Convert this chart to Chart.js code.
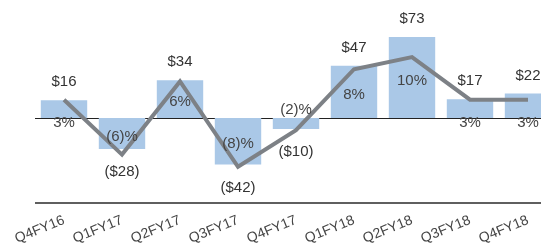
<!DOCTYPE html>
<html>
<head>
<meta charset="utf-8">
<script src="https://cdn.jsdelivr.net/npm/chart.js@4/dist/chart.umd.min.js"></script>
<style>
    html, body { margin: 0; padding: 0; background: #fff; overflow: hidden; }
    #wrap { width: 557px; height: 243px; }
</style>
</head>
<body>
<div id="wrap"><canvas id="chart"></canvas></div>
<script>
// ---------------------------------------------------------------------------
// Data
// ---------------------------------------------------------------------------

const quarters = ['Q4FY16', 'Q1FY17', 'Q2FY17', 'Q3FY17', 'Q4FY17', 'Q1FY18', 'Q2FY18', 'Q3FY18', 'Q4FY18'];
const dollarValues = [16, -28, 34, -42, -10, 47, 73, 17, 22];
const percentValues = [3, -6, 6, -8, -2, 8, 10, 3, 3];

// ---------------------------------------------------------------------------
// Helpers
// ---------------------------------------------------------------------------

const fontFamily = '"Liberation Sans", Arial, sans-serif';
const labelFont = '15px ' + fontFamily;

function formatDollar(v) {
    return v < 0 ? '($' + Math.abs(v) + ')' : '$' + v;
}

function formatPercent(v) {
    return v < 0 ? '(' + Math.abs(v) + ')%' : v + '%';
}

// zero line, bottom rule and the value labels
const labelPlugin = {
    id: 'valueLabels',
    beforeDatasetsDraw(chart) {
        const { ctx, chartArea, scales } = chart;
        const zeroY = Math.round(scales.y.getPixelForValue(0)) + 0.5;
        ctx.save();
        ctx.strokeStyle = '#222';
        ctx.lineWidth = 1;
        ctx.beginPath();
        ctx.moveTo(chartArea.left, zeroY);
        ctx.lineTo(chartArea.right, zeroY);
        ctx.stroke();
        // bottom rule sits just inside the plot area
        ctx.fillStyle = '#5f5f5f';
        ctx.fillRect(chartArea.left, chartArea.bottom - 2, chartArea.right - chartArea.left, 2);
        ctx.restore();
    },
    afterDatasetsDraw(chart) {
        const { ctx, scales } = chart;
        const bars = chart.getDatasetMeta(0).data;
        const zeroY = scales.y.getPixelForValue(0);
        ctx.save();
        ctx.font = labelFont;
        ctx.textAlign = 'center';
        ctx.textBaseline = 'middle';
        bars.forEach((bar, i) => {
            const v = dollarValues[i];
            const y = v >= 0 ? bar.y - 18 : bar.y + 23;
            ctx.fillStyle = '#333';
            ctx.fillText(formatDollar(v), bar.x, y);

            let py;
            if (Math.abs(v) < 25) {
                py = v >= 0 ? zeroY + 5 : zeroY - 8;
            } else {
                py = (bar.y + zeroY) / 2 + 3;
            }
            ctx.fillStyle = '#444';
            ctx.fillText(formatPercent(percentValues[i]), bar.x, py);
        });
        ctx.restore();
    }
};

// ---------------------------------------------------------------------------
// Chart
// ---------------------------------------------------------------------------

new Chart(document.getElementById('chart'), {
    data: {
        labels: quarters,
        datasets: [
            {
                type: 'bar',
                data: dollarValues,
                backgroundColor: '#aac8e7',
                barPercentage: 0.8,
                categoryPercentage: 1.0,
                clip: false,
                yAxisID: 'y',
                order: 1
            },
            {
                type: 'line',
                data: percentValues,
                borderColor: '#7d8186',
                borderWidth: 4,
                pointRadius: 0,
                tension: 0,
                fill: false,
                clip: false,
                yAxisID: 'y2',
                order: 0
            }
        ]
    },
    options: {
        responsive: true,
        maintainAspectRatio: false,
        animation: false,
        layout: { padding: { left: 35, right: 0, top: 20, bottom: 0 } },
        plugins: {
            legend: { display: false },
            tooltip: { enabled: false }
        },
        scales: {
            x: {
                grid: { display: false, drawTicks: false },
                border: { display: false },
                ticks: {
                    color: '#444',
                    font: { family: fontFamily, size: 14 },
                    minRotation: 22,
                    maxRotation: 22,
                    padding: 8
                },
                afterFit(scale) { scale.height = 39; }
            },
            y: { display: false, min: -77.5, max: 88.3 },
            y2: { display: false, min: -14.1, max: 16.07 }
        }
    },
    plugins: [labelPlugin]
});
</script>
</body>
</html>
